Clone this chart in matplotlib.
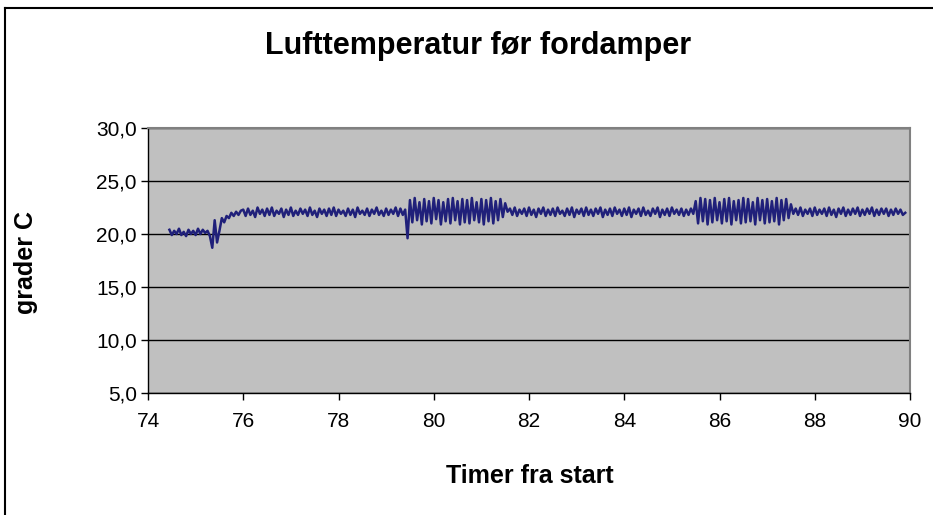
"""Lufttemperatur før fordamper — temperaturlogg, timer 74-90."""
import matplotlib
matplotlib.use("Agg")
import matplotlib.pyplot as plt
import numpy as np
from matplotlib.lines import Line2D
from matplotlib.ticker import FuncFormatter, MultipleLocator

plt.rcParams["font.family"] = ["Liberation Sans", "DejaVu Sans"]

# Logger: en måling hvert 3. minutt fra time 74,45
start_hour = 74.45
step_hour = 0.05

# 74,45 - 75,25: før oppstart
temp_before = [20.4, 19.9, 20.3, 20.0, 20.5, 19.9, 20.2, 19.8, 20.4, 20.0,
               20.3, 19.9, 20.5, 20.0, 20.4, 20.1, 20.3]
# 75,30 - 75,95: oppstart
temp_startup = [19.8, 18.7, 21.3, 19.2, 20.3, 21.5, 21.1, 21.7, 21.5, 22.0,
                21.7, 22.1, 21.8, 22.2]
# 76,00 - 79,40
temp_steady_1 = [22.3, 21.7, 22.4, 21.8, 22.2, 21.6, 22.5, 21.9, 22.3, 21.7,
                 22.4, 21.8, 22.5, 21.7, 22.2, 21.9, 22.4, 21.6, 22.3, 21.8,
                 22.5, 21.7, 22.2, 21.8, 22.4, 21.9, 22.3, 21.7, 22.5, 21.8,
                 22.2, 21.6, 22.4, 21.9, 22.3, 21.7, 22.4, 21.8, 22.5, 21.7,
                 22.3, 21.9, 22.2, 21.7, 22.4, 21.8, 22.3, 21.6, 22.5, 21.9,
                 22.2, 21.8, 22.4, 21.7, 22.3, 21.9, 22.5, 21.8, 22.2, 21.7,
                 22.4, 21.8, 22.3, 21.9, 22.5, 21.7, 22.4, 21.8, 22.3]
# 79,45: avriming
temp_dip = [19.6]
# 79,50 - 81,50
temp_swing_1 = [23.2, 21.1, 23.4, 21.3, 23.0, 20.9, 23.3, 21.2, 23.1, 21.0,
                23.4, 21.4, 23.2, 20.9, 23.0, 21.2, 23.3, 21.0, 23.4, 21.3,
                23.1, 20.9, 23.3, 21.1, 23.2, 21.0, 23.4, 21.3, 23.0, 21.1,
                23.3, 20.9, 23.2, 21.2, 23.4, 21.0, 23.1, 21.3, 23.3, 21.6,
                22.9]
# 81,55 - 85,45
temp_steady_2 = [22.1, 22.4, 21.8, 22.5, 21.7, 22.3, 21.9, 22.4, 21.7, 22.5,
                 21.8, 22.3, 21.6, 22.4, 21.9, 22.5, 21.7, 22.3, 21.8, 22.4,
                 21.7, 22.5, 21.9, 22.2, 21.7, 22.4, 21.8, 22.5, 21.6, 22.3,
                 21.9, 22.4, 21.7, 22.5, 21.8, 22.3, 21.7, 22.4, 21.9, 22.5,
                 21.6, 22.3, 21.8, 22.4, 21.7, 22.5, 21.9, 22.3, 21.7, 22.4,
                 21.8, 22.5, 21.6, 22.3, 21.9, 22.4, 21.7, 22.5, 21.8, 22.2,
                 21.7, 22.4, 21.9, 22.5, 21.6, 22.3, 21.8, 22.4, 21.7, 22.5,
                 21.9, 22.3, 21.8, 22.4, 21.7, 22.3, 21.8, 22.4, 21.9]
# 85,50 - 87,50
temp_swing_2 = [23.1, 21.0, 23.4, 21.2, 23.3, 20.9, 23.2, 21.1, 23.4, 21.3,
                23.0, 21.0, 23.3, 21.2, 23.4, 20.9, 23.1, 21.3, 23.2, 21.0,
                23.4, 21.1, 23.3, 21.2, 23.0, 20.9, 23.4, 21.3, 23.2, 21.0,
                23.3, 21.1, 23.1, 21.2, 23.4, 20.9, 23.2, 21.3, 23.3, 21.5,
                22.8]
# 87,55 - 89,90
temp_steady_3 = [21.9, 22.4, 21.8, 22.5, 21.7, 22.3, 21.9, 22.4, 21.7, 22.5,
                 21.8, 22.3, 21.9, 22.4, 21.7, 22.5, 21.8, 22.3, 21.6, 22.4,
                 21.9, 22.5, 21.7, 22.3, 21.8, 22.4, 21.9, 22.5, 21.7, 22.3,
                 21.8, 22.4, 21.9, 22.5, 21.7, 22.3, 21.8, 22.4, 21.9, 22.4,
                 21.7, 22.3, 21.8, 22.4, 21.9, 22.3, 21.8, 22.0]

temp = np.array(temp_before + temp_startup + temp_steady_1 + temp_dip
                + temp_swing_1 + temp_steady_2 + temp_swing_2 + temp_steady_3)
hours = start_hour + step_hour * np.arange(len(temp))

W, H = 933, 515
fig = plt.figure(figsize=(W / 100, H / 100), dpi=100)
ax = fig.add_axes([148 / W, 1 - 393 / H, (910 - 148) / W, (393 - 128) / H])
ax.set_facecolor("#C0C0C0")

ax.plot(hours, temp, color="#20207A", linewidth=1.8, zorder=3)

ax.set_xlim(74, 90)
ax.set_ylim(5, 30)
ax.xaxis.set_major_locator(MultipleLocator(2))
ax.yaxis.set_major_locator(MultipleLocator(5))
ax.yaxis.set_major_formatter(FuncFormatter(lambda v, _: f"{v:.1f}".replace(".", ",")))
ax.grid(axis="y", color="black", linewidth=1.0, zorder=1)
ax.set_axisbelow(True)

for side in ("top", "right"):
    ax.spines[side].set_color("#808080")
    ax.spines[side].set_linewidth(1.5)
for side in ("left", "bottom"):
    ax.spines[side].set_color("black")
    ax.spines[side].set_linewidth(1.0)

ax.tick_params(axis="both", direction="out", length=5, width=1, labelsize=15, colors="black")
ax.tick_params(axis="x", pad=9)
ax.tick_params(axis="y", pad=3)

fig.text(478 / W, 1 - 46 / H, "Lufttemperatur før fordamper",
         ha="center", va="center", fontsize=22, fontweight="bold")
fig.text(530 / W, 1 - 476 / H, "Timer fra start",
         ha="center", va="center", fontsize=18, fontweight="bold")
fig.text(26 / W, 1 - 262 / H, "grader C", rotation=90,
         ha="center", va="center", fontsize=18, fontweight="bold")

# ramme rundt diagrammet (venstre og øvre kant)
fig.add_artist(Line2D([5 / W, 5 / W], [0, 1 - 8 / H], transform=fig.transFigure,
                      color="black", linewidth=1.5))
fig.add_artist(Line2D([5 / W, 1], [1 - 8 / H, 1 - 8 / H], transform=fig.transFigure,
                      color="black", linewidth=1.5))

fig.savefig("out.png", dpi=100)
